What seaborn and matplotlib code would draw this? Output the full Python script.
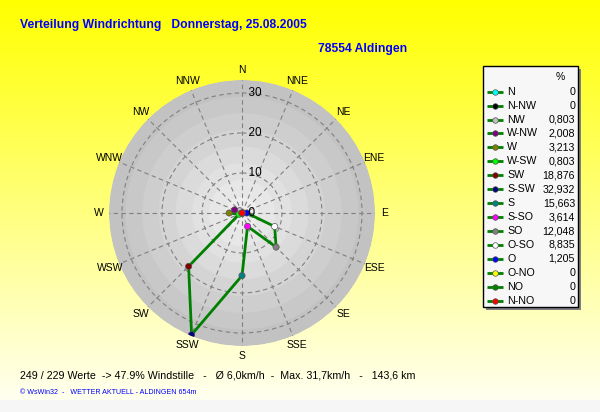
import numpy as np
import pandas as pd
import seaborn as sns
import matplotlib.pyplot as plt
from matplotlib.patches import Rectangle

# wind direction sectors (legend order, going anticlockwise from N)
sectors = ["N", "N-NW", "NW", "W-NW", "W", "W-SW", "SW", "S-SW",
           "S", "S-SO", "SO", "O-SO", "O", "O-NO", "NO", "N-NO"]
percent = [0, 0, 0.803, 2.008, 3.213, 0.803, 18.876, 32.932,
           15.663, 3.614, 12.048, 8.835, 1.205, 0, 0, 0]
sector_deg = [0, 337.5, 315, 292.5, 270, 247.5, 225, 202.5,
              180, 157.5, 135, 112.5, 90, 67.5, 45, 22.5]
marker_colors = ["#00FFFF", "#000000", "#C0C0C0", "#800080", "#808000", "#00FF00",
                 "#800000", "#000080", "#008080", "#FF00FF", "#808080", "#FFFFFF",
                 "#0000FF", "#FFFF00", "#008000", "#FF0000"]

compass = ["N", "NNE", "NE", "ENE", "E", "ESE", "SE", "SSE",
           "S", "SSW", "SW", "WSW", "W", "WNW", "NW", "NNW"]
compass_deg = [0, 22.5, 45, 67.5, 90, 112.5, 135, 157.5,
               180, 202.5, 225, 247.5, 270, 292.5, 315, 337.5]
ring_ticks = [0, 10, 20, 30]
r_max = 33.25

title = "Verteilung Windrichtung   Donnerstag, 25.08.2005"
station = "78554 Aldingen"
summary = "249 / 229 Werte  -> 47.9% Windstille   -   Ø 6,0km/h  -  Max. 31,7km/h   -   143,6 km"
credit = "© WsWin32  -   WETTER AKTUELL - ALDINGEN 654m"

df = pd.DataFrame({"sector": sectors, "theta": np.deg2rad(sector_deg), "percent": percent})
loop = pd.concat([df, df.iloc[[0]]], ignore_index=True)

narrow = ["Liberation Sans Narrow", "Liberation Sans", "DejaVu Sans"]
plain = ["Liberation Sans", "DejaVu Sans"]

fig = plt.figure(figsize=(6, 4.12), dpi=100)

# background: yellow gradient + grey bottom strip, pixel coordinates
bg = fig.add_axes([0, 0, 1, 1])
bg.set_axis_off()
rows = np.zeros((412, 1, 3))
t = np.linspace(0, 1, 400)
rows[:400, 0, 0] = 1.0
rows[:400, 0, 1] = 1.0
rows[:400, 0, 2] = t * 0.94
rows[400:, 0, :] = 0.965
bg.imshow(rows, extent=[0, 600, 412, 0], aspect="auto", interpolation="nearest")
bg.set_xlim(0, 600)
bg.set_ylim(412, 0)

bg.text(20, 25, title, color="#0000FF", fontsize=8.7, fontweight="bold", family=narrow, va="center")
bg.text(318, 49, station, color="#0000FF", fontsize=8.7, fontweight="bold", family=narrow, va="center")
bg.text(20, 375, summary, color="black", fontsize=7.7, family=plain, va="center")
bg.text(20, 392, credit, color="#0000FF", fontsize=5.1, family=plain, va="center")

# legend panel
bg.add_patch(Rectangle((486, 69), 95, 241, facecolor="#808080", edgecolor="none"))
bg.add_patch(Rectangle((483, 66), 95, 241, facecolor="#F7F7F7", edgecolor="black", linewidth=1))
bg.text(560, 77, "%", fontsize=7.5, family=plain, ha="center", va="center")
for i, (name, val, col) in enumerate(zip(sectors, percent, marker_colors)):
    y = 91.7 + 13.93 * i
    bg.plot([487, 503], [y, y], color="#008000", linewidth=2, solid_capstyle="butt")
    bg.plot([495], [y], marker="o", markersize=4, color=col, markeredgecolor="#555555", markeredgewidth=0.5)
    bg.text(507, y, name, fontsize=7.7, family=plain, va="center")
    txt = "0" if val == 0 else f"{val:.3f}".replace(".", ",")
    bg.text(575, y, txt, fontsize=7.7, family=plain, va="center", ha="right")

# polar rose: centre (242, 213) px, radius 133 px
ax = fig.add_axes([109 / 600, 66 / 412, 266 / 600, 266 / 412], projection="polar")
ax.set_theta_zero_location("N")
ax.set_theta_direction(-1)
ax.patch.set_alpha(0)
ax.spines["polar"].set_visible(False)

band_edges = np.linspace(r_max, 0, 9)[:-1]
band_cols = np.linspace(0.76, 0.93, len(band_edges))
for edge, c in zip(band_edges, band_cols):
    ax.bar(0, edge, width=2 * np.pi, bottom=0, color=(c, c, c), edgecolor="none", zorder=0)

ax.set_ylim(0, r_max)
ax.set_rticks(ring_ticks[1:])
ax.set_yticklabels([])
ax.set_thetagrids(compass_deg, labels=[""] * len(compass_deg))
ax.grid(True, color="#808080", linestyle=(0, (4, 3)), linewidth=0.8)
ax.set_axisbelow(False)
ax.tick_params(length=0)

sns.lineplot(data=loop, x="theta", y="percent", sort=False, estimator=None,
             color="#008000", linewidth=2, ax=ax, zorder=3)
sns.scatterplot(data=df, x="theta", y="percent", hue="sector",
                palette=dict(zip(sectors, marker_colors)), s=20,
                edgecolor="#555555", linewidth=0.5, legend=False, ax=ax, zorder=4)
ax.set_xlabel("")
ax.set_ylabel("")

for lab, deg in zip(compass, compass_deg):
    ax.text(np.deg2rad(deg), r_max * 1.075, lab, fontsize=7.5, family=plain,
            ha="center", va="center", clip_on=False)
for r in ring_ticks:
    ax.text(0, r, f"  {r}", fontsize=8.5, family=plain, ha="left", va="center", zorder=5)

fig.savefig("out.png", dpi=100)
